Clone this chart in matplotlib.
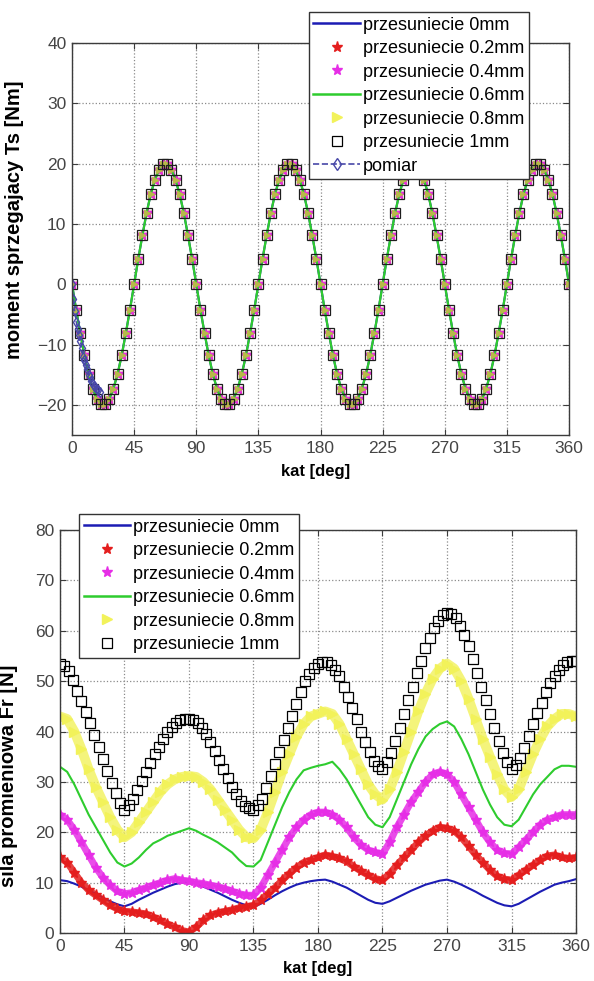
import numpy as np
import matplotlib
matplotlib.use('Agg')
import matplotlib.pyplot as plt
from matplotlib.lines import Line2D

plt.rcParams['font.family'] = ['Liberation Sans', 'DejaVu Sans']

# ---------------- dane: wykres gorny (moment sprzegajacy) ----------------
kat3 = np.arange(0, 361, 3)
ts = [0, -4.2, -8.1, -11.8, -14.9, -17.3, -19.0, -19.9, -19.9, -19.0, -17.3, -14.9, -11.8, -8.1, -4.2,
      0, 4.2, 8.1, 11.8, 14.9, 17.3, 19.0, 19.9, 19.9, 19.0, 17.3, 14.9, 11.8, 8.1, 4.2,
      0, -4.2, -8.1, -11.8, -14.9, -17.3, -19.0, -19.9, -19.9, -19.0, -17.3, -14.9, -11.8, -8.1, -4.2,
      0, 4.2, 8.1, 11.8, 14.9, 17.3, 19.0, 19.9, 19.9, 19.0, 17.3, 14.9, 11.8, 8.1, 4.2,
      0, -4.2, -8.1, -11.8, -14.9, -17.3, -19.0, -19.9, -19.9, -19.0, -17.3, -14.9, -11.8, -8.1, -4.2,
      0, 4.2, 8.1, 11.8, 14.9, 17.3, 19.0, 19.9, 19.9, 19.0, 17.3, 14.9, 11.8, 8.1, 4.2,
      0, -4.2, -8.1, -11.8, -14.9, -17.3, -19.0, -19.9, -19.9, -19.0, -17.3, -14.9, -11.8, -8.1, -4.2,
      0, 4.2, 8.1, 11.8, 14.9, 17.3, 19.0, 19.9, 19.9, 19.0, 17.3, 14.9, 11.8, 8.1, 4.2,
      0]

pom_kat = [0, 1, 2, 3, 4, 5, 6, 7, 8, 9, 10, 11, 12, 13, 14, 15, 16, 17, 18, 19, 20]
pom_ts = [0, -2.5, -4.5, -6.2, -7.4, -8.5, -9.5, -10.6, -12.0, -12.6, -13.4, -14.0, -15.0,
          -15.4, -16.0, -16.5, -16.8, -17.1, -17.4, -17.6, -17.9]

# ---------------- dane: wykres dolny (sila promieniowa) ----------------
kat5 = np.arange(0, 361, 5)
fr_0mm = [10.5, 10.3, 9.8, 9.2, 8.5, 7.8, 7.0, 6.3, 5.7, 5.3, 5.8, 6.6, 7.3, 8.0, 8.6, 9.2, 9.7, 10.0, 10.2,
          9.8, 9.2, 8.6, 8.0, 7.3, 6.6, 6.0, 5.5, 5.2, 5.8, 6.6, 7.5, 8.3, 9.0, 9.6, 10.0, 10.3, 10.5,
          10.6, 10.2, 9.6, 9.0, 8.2, 7.4, 6.6, 6.0, 5.8, 6.3, 7.0, 7.7, 8.4, 9.0, 9.6, 10.0, 10.4, 10.6,
          10.2, 9.6, 8.9, 8.2, 7.4, 6.7, 6.0, 5.5, 5.3, 5.8, 6.6, 7.4, 8.2, 8.9, 9.6, 10.0, 10.3, 10.7]
fr_02mm = [15.0, 14.0, 12.0, 10.0, 8.5, 7.5, 6.5, 5.5, 4.8, 4.3, 4.2, 4.0, 3.8, 3.2, 2.5, 1.8, 1.2, 0.5, 0.2,
           1.2, 2.5, 3.5, 4.0, 4.3, 4.6, 5.0, 5.2, 5.5, 6.5, 7.8, 9.0, 10.5, 11.8, 13.0, 14.0, 14.5, 15.0,
           15.5, 15.2, 14.8, 14.2, 13.2, 12.3, 11.5, 10.8, 10.5, 11.8, 13.5, 15.0, 16.5, 18.0, 19.3, 20.3, 21.0, 20.8,
           20.3, 19.0, 17.3, 15.5, 14.0, 12.5, 11.3, 10.7, 10.5, 11.5, 12.5, 13.5, 14.5, 15.3, 15.5, 15.0, 14.8, 15.0]
fr_04mm = [23.5, 22.5, 20.5, 18.0, 15.5, 13.0, 11.0, 9.5, 8.3, 7.8, 8.0, 8.5, 9.0, 9.5, 10.0, 10.5, 10.8, 10.5, 10.3,
           10.0, 9.8, 9.5, 9.2, 8.8, 8.3, 7.8, 7.5, 7.5, 9.0, 11.5, 14.0, 16.5, 19.0, 21.0, 22.5, 23.5, 24.0,
           24.0, 23.5, 22.5, 21.0, 19.0, 17.5, 16.5, 16.0, 15.7, 18.0, 21.0, 23.5, 26.0, 28.0, 30.0, 31.5, 32.0, 31.5,
           30.0, 27.5, 25.0, 22.5, 20.0, 18.0, 16.5, 15.8, 15.7, 17.0, 18.5, 20.0, 21.5, 22.5, 23.0, 23.5, 23.5, 23.5]
fr_06mm = [33.0, 32.0, 29.5, 26.5, 23.5, 21.0, 18.5, 16.0, 14.0, 13.2, 13.8, 15.0, 16.5, 17.8, 18.5, 19.3, 19.8, 20.3, 20.8,
           20.3, 19.5, 18.8, 18.0, 17.0, 16.0, 14.5, 13.3, 13.2, 14.5, 18.0, 21.5, 25.0, 28.0, 30.5, 32.3, 32.8, 33.2,
           33.5, 34.0, 32.5, 30.5, 28.0, 25.5, 23.0, 21.5, 21.0, 23.0, 26.5, 30.0, 33.5, 36.5, 39.0, 40.5, 41.5, 42.0,
           41.0, 38.5, 35.5, 32.0, 28.5, 25.5, 23.0, 21.5, 21.2, 22.5, 25.0, 27.5, 29.5, 31.0, 32.5, 33.2, 33.2, 33.0]
fr_08mm = [43.0, 42.5, 40.0, 36.5, 32.5, 29.0, 26.0, 23.0, 20.5, 19.0, 20.0, 22.0, 24.0, 26.0, 28.0, 29.5, 30.5, 31.0, 31.2,
           31.0, 30.0, 28.5, 26.5, 24.5, 22.5, 20.5, 19.0, 18.8, 20.5, 24.0, 28.0, 32.0, 35.5, 39.0, 41.5, 43.0, 43.5,
           44.0, 43.5, 41.5, 38.5, 35.5, 32.5, 29.5, 27.5, 26.5, 28.5, 32.0, 36.0, 40.0, 44.0, 47.5, 50.5, 52.5, 53.5,
           52.5, 50.0, 46.5, 42.5, 38.5, 35.0, 31.5, 28.5, 27.0, 28.5, 32.0, 35.5, 38.5, 41.0, 42.5, 43.5, 43.5, 43.0]
fr_1mm = [53.5, 53.0, 52.0, 50.2, 48.1, 46.0, 43.9, 41.7, 39.3, 36.9, 34.5, 32.1, 29.8, 27.7, 25.8,
          24.5, 25.4, 26.6, 28.4, 30.2, 32.0, 33.8, 35.5, 37.0, 38.5, 40.0, 40.9, 41.7, 42.3, 42.5,
          42.5, 42.2, 41.7, 40.8, 39.5, 38.0, 36.2, 34.4, 32.6, 30.8, 29.0, 27.5, 26.2, 25.3, 24.8,
          24.5, 25.4, 26.7, 28.8, 31.1, 33.5, 35.9, 38.3, 40.7, 43.1, 45.5, 47.9, 50.0, 51.5, 52.6,
          53.5, 53.8, 53.8, 53.2, 52.2, 51.0, 48.9, 46.8, 44.7, 42.4, 40.0, 37.9, 35.9, 34.1, 33.1,
          32.5, 34.0, 35.8, 38.2, 40.8, 43.5, 46.2, 48.9, 51.6, 54.1, 56.5, 58.6, 60.5, 62.0, 63.1,
          63.5, 63.3, 62.5, 61.0, 59.1, 57.0, 54.3, 51.6, 48.9, 46.2, 43.5, 40.8, 38.2, 35.8, 34.0,
          32.5, 33.4, 34.7, 36.8, 39.1, 41.5, 43.6, 45.7, 47.8, 49.6, 51.0, 52.2, 53.2, 53.8, 54.0,
          54.0]

etykiety = ['przesuniecie 0mm', 'przesuniecie 0.2mm', 'przesuniecie 0.4mm',
            'przesuniecie 0.6mm', 'przesuniecie 0.8mm', 'przesuniecie 1mm']

niebieski = '#1c1cb4'
czerwony = '#e41e1e'
magenta = '#e62ee6'
zielony = '#2ecc2e'
zolty = '#f2f25a'
szary = '#3c3c3c'

fig = plt.figure(figsize=(5.94, 9.81), dpi=100)
ax1 = fig.add_axes([0.1212, 0.5566, 0.8368, 0.3996])
ax2 = fig.add_axes([0.101, 0.0489, 0.8687, 0.4108])


def ustaw_osie(ax):
    ax.set_xlim(0, 360)
    ax.set_xticks(np.arange(0, 361, 45))
    ax.grid(True, linestyle=':', color='#8a8a8a', linewidth=0.9)
    ax.tick_params(direction='in', top=True, right=True, length=4, width=0.8,
                   colors=szary, labelsize=12.5, labelcolor='#454545', pad=4)
    for s in ax.spines.values():
        s.set_color(szary)
        s.set_linewidth(1.0)


def legenda_uchwyty(pomiar=False):
    h = [Line2D([], [], color=niebieski, lw=1.8),
         Line2D([], [], color=czerwony, marker='*', ls='none', ms=8),
         Line2D([], [], color=magenta, marker='*', ls='none', ms=8),
         Line2D([], [], color=zielony, lw=1.8),
         Line2D([], [], color=zolty, marker='>', ls='none', ms=7),
         Line2D([], [], color='black', marker='s', mfc='none', ls='none', ms=7, mew=0.9)]
    if pomiar:
        h.append(Line2D([], [], color='#4848a8', ls='--', marker='d', mfc='none', ms=6, lw=1.2))
    return h


def legenda(ax, uchwyty, teksty, loc, anchor):
    ax.legend(uchwyty, teksty, loc=loc, bbox_to_anchor=anchor, bbox_transform=fig.transFigure,
              fontsize=13, fancybox=False, framealpha=1, edgecolor='#333333',
              borderaxespad=0, labelspacing=0.36, handlelength=2.6, handletextpad=0.15,
              borderpad=0.25)


# ---------------- wykres gorny ----------------
ax1.plot(kat3, ts, color=niebieski, lw=1.5)
ax1.plot(kat3, ts, ls='none', marker='*', color=czerwony, ms=7)
ax1.plot(kat3, ts, ls='none', marker='*', color=magenta, ms=7)
ax1.plot(kat3, ts, color=zielony, lw=1.6)
ax1.plot(kat3, ts, ls='none', marker='>', color='#b8b84a', ms=5)
ax1.plot(kat3, ts, ls='none', marker='s', mfc='none', mec='#1e1e1e', ms=7.5, mew=0.9)
ax1.plot(pom_kat, pom_ts, color='#4848a8', ls='--', marker='d', mfc='none', ms=5, lw=1.0)
ustaw_osie(ax1)
ax1.set_ylim(-25, 40)
ax1.set_yticks(np.arange(-20, 41, 10))
ax1.set_xlabel('kat [deg]', fontsize=12, fontweight='bold')
ax1.set_ylabel('moment sprzegajacy Ts [Nm]', fontsize=14.5, fontweight='bold')
ax1.xaxis.set_label_coords(0.49, -0.075)
ax1.yaxis.set_label_coords(-0.097, 0.55)
legenda(ax1, legenda_uchwyty(True), etykiety + ['pomiar'], 'upper right',
        (529 / 594, 1 - 12 / 981))

# ---------------- wykres dolny ----------------
ax2.plot(kat5, fr_0mm, color=niebieski, lw=1.5)
ax2.plot(kat5, fr_02mm, color=czerwony, lw=5, alpha=0.85)
ax2.plot(kat5, fr_02mm, ls='none', marker='*', color=czerwony, ms=8)
ax2.plot(kat5, fr_04mm, color=magenta, lw=5, alpha=0.85)
ax2.plot(kat5, fr_04mm, ls='none', marker='*', color=magenta, ms=8)
ax2.plot(kat5, fr_06mm, color=zielony, lw=1.5)
ax2.plot(kat5, fr_08mm, color=zolty, lw=7, alpha=0.8)
ax2.plot(kat5, fr_08mm, ls='none', marker='>', color=zolty, ms=7)
ax2.plot(kat3, fr_1mm, ls='none', marker='s', mfc='none', mec='black', ms=7.5, mew=0.9)
ustaw_osie(ax2)
ax2.set_ylim(0, 80)
ax2.set_yticks(np.arange(0, 81, 10))
ax2.set_xlabel('kat [deg]', fontsize=12, fontweight='bold')
ax2.set_ylabel('sila promieniowa Fr [N]', fontsize=14.5, fontweight='bold')
ax2.xaxis.set_label_coords(0.5, -0.07)
ax2.yaxis.set_label_coords(-0.082, 0.39)
legenda(ax2, legenda_uchwyty(), etykiety, 'upper left', (79 / 594, 1 - 514 / 981))

fig.savefig('out.png', dpi=100)
